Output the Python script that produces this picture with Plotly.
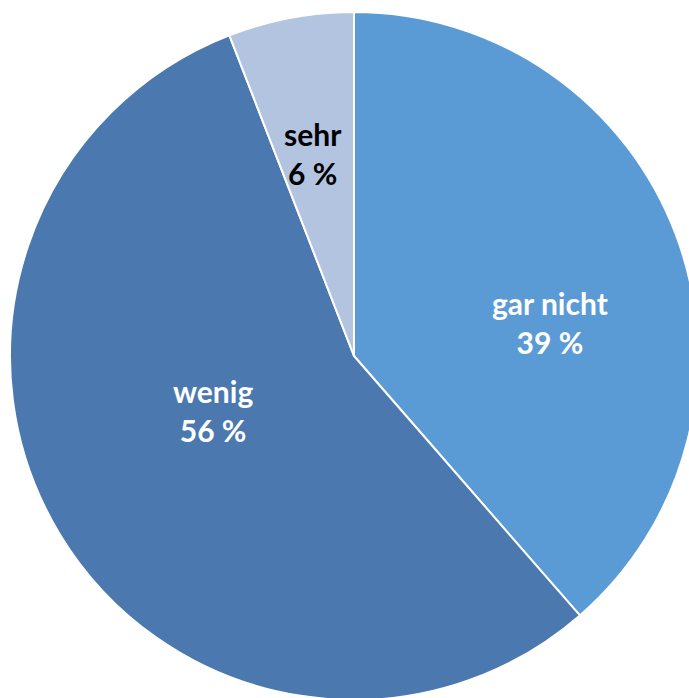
import plotly.graph_objects as go

labels = ["gar nicht", "wenig", "sehr"]
values = [38.6, 55.5, 5.9]
pct_text = ["39 %", "56 %", "6 %"]
colors = ["#5B9BD5", "#4A78AF", "#B3C4E1"]
text_colors = ["white", "white", "black"]

W, H = 710, 712
cx, cy, r = 354, 356, 344

fig = go.Figure(go.Pie(
    labels=labels,
    values=values,
    sort=False,
    direction="clockwise",
    rotation=0,
    marker=dict(colors=colors, line=dict(color="white", width=2)),
    textinfo="none",
    hoverinfo="label+percent",
    showlegend=False,
    domain=dict(x=[(cx - r) / W, (cx + r) / W], y=[(H - cy - r) / H, (H - cy + r) / H]),
))

# label anchor positions in pixels (layout)
label_pos = [(550, 322), (213, 410), (313, 153)]
for lab, pt, (px, py), tc in zip(labels, pct_text, label_pos, text_colors):
    fig.add_annotation(
        x=px / W, y=1 - py / H, xref="paper", yref="paper",
        text=f"<b>{lab}</b><br><b>{pt}</b>", showarrow=False,
        font=dict(family="Lato", size=30, color=tc),
        align="center", xanchor="center", yanchor="middle",
    )

fig.update_layout(
    width=W, height=H, autosize=False,
    margin=dict(l=0, r=0, t=0, b=0),
    paper_bgcolor="white", plot_bgcolor="white",
)

fig.write_html("out.html", config={"displayModeBar": False},
               post_script="document.body.style.margin='0';document.body.style.overflow='hidden';document.documentElement.style.overflow='hidden';")
